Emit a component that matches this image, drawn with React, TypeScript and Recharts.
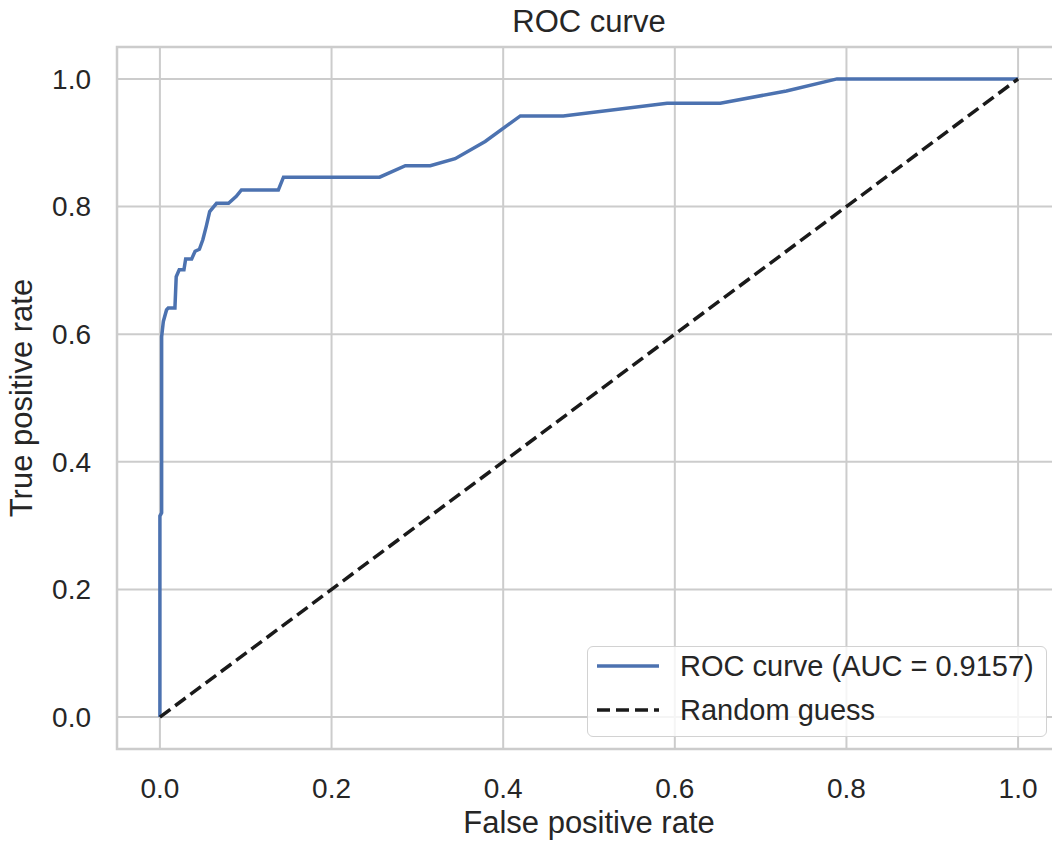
import React from 'react';
import { LineChart, Line, XAxis, YAxis, CartesianGrid, Legend, ReferenceArea, Label } from 'recharts';

const fpr = [0, 0, 0.002, 0.002, 0.004, 0.0077, 0.0097, 0.0175, 0.019, 0.0225, 0.028, 0.030, 0.037, 0.041, 0.046, 0.050, 0.054, 0.058, 0.066, 0.080, 0.089, 0.095, 0.138, 0.144, 0.256, 0.286, 0.315, 0.344, 0.379, 0.420, 0.470, 0.591, 0.653, 0.730, 0.789, 1.0];
const tpr = [0, 0.315, 0.32, 0.596, 0.62, 0.638, 0.641, 0.641, 0.69, 0.701, 0.701, 0.718, 0.718, 0.73, 0.733, 0.748, 0.769, 0.792, 0.805, 0.805, 0.816, 0.826, 0.826, 0.846, 0.846, 0.864, 0.864, 0.875, 0.902, 0.942, 0.942, 0.962, 0.962, 0.981, 1.0, 1.0];
const diagX = [0, 1];
const diagY = [0, 1];
const xTicks = [0, 0.2, 0.4, 0.6, 0.8, 1.0];
const yTicks = [0, 0.2, 0.4, 0.6, 0.8, 1.0];
const title = 'ROC curve';
const xLabel = 'False positive rate';
const yLabel = 'True positive rate';
const rocName = 'ROC curve (AUC = 0.9157)';
const diagName = 'Random guess';

const rocData = fpr.map((x, i) => ({ x, y: tpr[i] }));
const diagData = diagX.map((x, i) => ({ x, y: diagY[i] }));

const FONT = '"Liberation Sans", Arial, Helvetica, sans-serif';
const TEXT = '#262626';
const GRID = '#cccccc';

const renderYLabel = (props: any) => {
  const vb = props.viewBox || {};
  const cy = (vb.y ?? 47) + (vb.height ?? 702) / 2;
  const bx = 32;
  return (
    <text
      x={bx}
      y={cy}
      transform={`rotate(-90, ${bx}, ${cy})`}
      textAnchor="middle"
      fill={TEXT}
      fontSize={31}
      fontFamily={FONT}
    >
      {yLabel}
    </text>
  );
};

const renderLegend = (props: any) => {
  const payload = props.payload || [];
  return (
    <div
      style={{
        boxSizing: 'border-box',
        width: 460,
        height: 91,
        border: '1.5px solid #d2d2d2',
        borderRadius: 6,
        background: 'rgba(255,255,255,0.8)',
        position: 'relative',
        fontFamily: FONT,
      }}
    >
      {payload.map((entry: any, i: number) => {
        const dash = entry.payload?.strokeDasharray;
        const cy = 19 + i * 44;
        return (
          <div key={i} style={{ position: 'absolute', left: 0, top: cy - 20, height: 40, width: 460 }}>
            <svg width={64} height={10} style={{ position: 'absolute', left: 9, top: 15 }}>
              <line x1={0} y1={5} x2={62} y2={5} stroke={entry.color} strokeWidth={3.5} strokeDasharray={dash} />
            </svg>
            <span
              style={{
                position: 'absolute',
                left: 92,
                top: 0,
                lineHeight: '40px',
                fontSize: 29,
                color: TEXT,
                whiteSpace: 'nowrap',
              }}
            >
              {entry.value}
            </span>
          </div>
        );
      })}
    </div>
  );
};

export default function App() {
  return (
    <div style={{ position: 'absolute', left: 0, top: 0, width: 1052, height: 843, overflow: 'hidden', background: '#fff' }}>
      <div
        style={{
          position: 'absolute',
          left: 589,
          top: 6,
          transform: 'translateX(-50%)',
          fontSize: 31,
          lineHeight: '31px',
          fontFamily: FONT,
          color: TEXT,
          whiteSpace: 'nowrap',
        }}
      >
        {title}
      </div>
      <LineChart
        width={1070}
        height={843}
        margin={{ top: 47, right: 9, left: 0, bottom: 0 }}
        style={{ fontFamily: FONT }}
      >
        <CartesianGrid stroke={GRID} strokeWidth={2} />
        <XAxis
          dataKey="x"
          type="number"
          domain={[-0.05, 1.05]}
          ticks={xTicks}
          allowDataOverflow
          tickFormatter={(v: number) => v.toFixed(1)}
          tick={{ fill: TEXT, fontSize: 28, fontFamily: FONT }}
          axisLine={false}
          tickLine={false}
          tickSize={0}
          tickMargin={29}
          height={94}
        >
          <Label value={xLabel} position="insideBottom" offset={10} fill={TEXT} fontSize={31} fontFamily={FONT} />
        </XAxis>
        <YAxis
          type="number"
          domain={[-0.05, 1.05]}
          ticks={yTicks}
          allowDataOverflow
          tickFormatter={(v: number) => v.toFixed(1)}
          tick={{ fill: TEXT, fontSize: 28, fontFamily: FONT }}
          axisLine={false}
          tickLine={false}
          tickSize={0}
          tickMargin={26}
          width={117}
        >
          <Label content={renderYLabel} />
        </YAxis>
        <ReferenceArea x1={-0.05} x2={1.05} y1={-0.05} y2={1.05} fill="none" stroke={GRID} strokeWidth={2.5} ifOverflow="visible" />
        <Line
          data={rocData}
          dataKey="y"
          name={rocName}
          type="linear"
          stroke="#4c72b0"
          strokeWidth={3.5}
          dot={false}
          activeDot={false}
          isAnimationActive={false}
        />
        <Line
          data={diagData}
          dataKey="y"
          name={diagName}
          type="linear"
          stroke="#1a1a1a"
          strokeWidth={3.5}
          strokeDasharray="13 6"
          dot={false}
          activeDot={false}
          isAnimationActive={false}
        />
        <Legend
          layout="horizontal"
          verticalAlign="middle"
          align="center"
          content={renderLegend}
          wrapperStyle={{ position: 'absolute', left: 587, top: 646, width: 460, height: 91 }}
        />
      </LineChart>
    </div>
  );
}
